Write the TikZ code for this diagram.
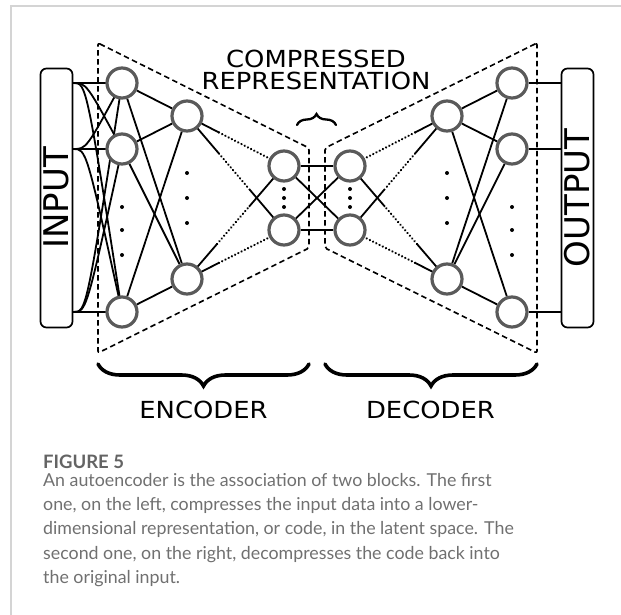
\documentclass[tikz,border=0pt]{standalone}
\usepackage{fontspec}
\usepackage{graphicx}
\setmainfont{DejaVu Sans}
\newfontfamily\capfont{Lato}
\usetikzlibrary{calc,decorations.pathreplacing,backgrounds}
\definecolor{nodegray}{RGB}{90,90,90}
\definecolor{cardgray}{RGB}{212,212,212}
\definecolor{figgray}{RGB}{100,100,100}
\definecolor{bodygray}{RGB}{112,112,112}
\newcommand\widetext[1]{\scalebox{1.1}[1]{#1}}
\newcommand\mixline[4]{%
  \draw[conn] (#1.center) -- ($(#1.center)!#3!(#2.center)$);
  \draw[dotconn] ($(#1.center)!#3!(#2.center)$) -- ($(#1.center)!#4!(#2.center)$);
  \draw[conn] ($(#1.center)!#4!(#2.center)$) -- (#2.center);}
\begin{document}
\begin{tikzpicture}[x=1pt,y=-1pt,
  neuron/.style={circle, draw=nodegray, line width=3.2pt, fill=white, minimum size=30pt, inner sep=0pt},
  conn/.style={line width=1.8pt, black},
  dotconn/.style={line width=2.5pt, black, line cap=round, dash pattern=on 0.01pt off 3.6pt},
  dashbox/.style={line width=1.6pt, black, dash pattern=on 5.5pt off 3.5pt, rounded corners=2pt},
  dotmark/.style={circle, fill=black, inner sep=0pt, minimum size=4pt},
  iobox/.style={draw, rounded corners=6pt, line width=1.7pt, minimum width=259pt, minimum height=32pt, inner sep=0pt, rotate=90, font=\fontsize{34}{34}\selectfont},
  bigbrace/.style={decorate, decoration={brace, amplitude=22pt, aspect=0.5}, line width=3.6pt, line cap=round},
  smallbrace/.style={decorate, decoration={brace, amplitude=11pt}, line width=2.3pt, line cap=round},
  labeltext/.style={font=\fontsize{23.5}{23.5}\selectfont, anchor=base, inner sep=0pt},
  cardline/.style={cardgray, line width=1.2pt}
]
\useasboundingbox (0,0) rectangle (621,615);
% card border
\coordinate (cardtl) at (11,6);
\coordinate (cardtr) at (621,6);
\coordinate (cardbl) at (11,615);
\draw[cardline] (cardtr) -- (cardtl) -- (cardbl);

% input / output boxes
\node[iobox] (inbox) at (56.5,198) {INPUT};
\node[iobox] (outbox) at (577.5,198) {OUTPUT};

% neurons
\node[neuron] (a1) at (122,83) {};
\node[neuron] (a2) at (122,149) {};
\node[neuron] (a3) at (122,312) {};
\node[neuron] (b1) at (187,116) {};
\node[neuron] (b2) at (187,279) {};
\node[neuron] (c1) at (284,166) {};
\node[neuron] (c2) at (284,230) {};
\node[neuron] (d1) at (350,166) {};
\node[neuron] (d2) at (350,230) {};
\node[neuron] (e1) at (447,116) {};
\node[neuron] (e2) at (447,279) {};
\node[neuron] (f1) at (512,83) {};
\node[neuron] (f2) at (512,149) {};
\node[neuron] (f3) at (512,312) {};

% ellipsis dots
\foreach \y [count=\i] in {207,230,255} {
  \node[dotmark] (adot\i) at (122,\y) {};
  \node[dotmark] (fdot\i) at (512,\y) {};}
\foreach \y [count=\i] in {173,198,223} {
  \node[dotmark] (bdot\i) at (187,\y) {};
  \node[dotmark] (edot\i) at (447,\y) {};}
\foreach \y [count=\i] in {189,198,207} {
  \node[dotmark] (cdot\i) at (284,\y) {};
  \node[dotmark] (ddot\i) at (350,\y) {};}

% dashed trapezoids
\coordinate (ptl) at (98,43);
\coordinate (ptr) at (309,148);
\coordinate (pbr) at (309,248);
\coordinate (pbl) at (98,353);
\coordinate (qtl) at (325,148);
\coordinate (qtr) at (537,43);
\coordinate (qbr) at (537,353);
\coordinate (qbl) at (325,248);
\draw[dashbox] (ptl) -- (ptr) -- (pbr) -- (pbl) -- cycle;
\draw[dashbox] (qtr) -- (qtl) -- (qbl) -- (qbr) -- cycle;

% labels
\node[labeltext] (comp) at (316,68) {\widetext{COMPRESSED}};
\node[labeltext] (repr) at (316,90) {\widetext{REPRESENTATION}};
\node[labeltext] (enc) at (203.5,418) {\widetext{ENCODER}};
\node[labeltext] (dec) at (430.5,418) {\widetext{DECODER}};

% braces
\coordinate (br1a) at (309,364);
\coordinate (br1b) at (98,364);
\coordinate (br2a) at (537,364);
\coordinate (br2b) at (325,364);
\coordinate (br3a) at (297,125);
\coordinate (br3b) at (336,125);
\draw[bigbrace] (br1a) -- (br1b);
\draw[bigbrace] (br2a) -- (br2b);
\draw[smallbrace] (br3a) -- (br3b);

% caption
\node[anchor=base west, inner sep=0pt, text=figgray, font=\capfont\bfseries\fontsize{18.5}{18.5}\selectfont] (figlabel) at (43,468) {FIGURE 5};
\node[anchor=north west, inner sep=0pt, text=bodygray, align=left, font=\capfont\fontsize{17.8}{24.3}\selectfont] (captext) at (43,473) {An autoencoder is the association of two blocks. The first\\one, on the left, compresses the input data into a lower-\\dimensional representation, or code, in the latent space. The\\second one, on the right, decompresses the code back into\\the original input.};

% connectors
\begin{pgfonlayer}{background}
\foreach \t in {a1,a2,a3} {
  \draw[conn] (inbox.south |- a1) .. controls +(13,0) .. (\t.center);
  \draw[conn] (inbox.south |- a2) .. controls +(13,0) .. (\t.center);
  \draw[conn] (inbox.south |- a3) .. controls +(13,0) .. (\t.center);
  \draw[conn] (\t) -- (b1);
  \draw[conn] (\t) -- (b2);}
\foreach \t in {f1,f2,f3} {
  \draw[conn] (\t) -- (outbox.north |- \t);
  \draw[conn] (e1) -- (\t);
  \draw[conn] (e2) -- (\t);}
\mixline{b1}{c1}{0.33}{1}
\mixline{b1}{c2}{0.33}{0.64}
\mixline{b2}{c2}{0.33}{1}
\mixline{b2}{c1}{0.31}{0.64}
\mixline{e1}{d1}{0.33}{1}
\mixline{e1}{d2}{0.33}{0.64}
\mixline{e2}{d2}{0.33}{1}
\mixline{e2}{d1}{0.31}{0.64}
\draw[conn] (c1) -- (d1);
\draw[conn] (c2) -- (d2);
\draw[conn] (c1) -- (d2);
\draw[conn] (c2) -- (d1);
\end{pgfonlayer}
\end{tikzpicture}
\end{document}
